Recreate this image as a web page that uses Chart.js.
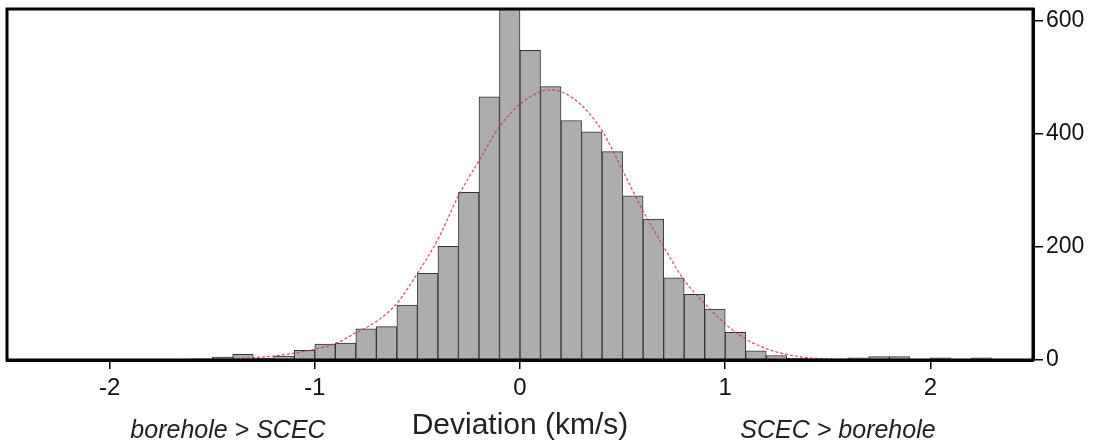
<!DOCTYPE html>
<html>
<head>
<meta charset="utf-8">
<script src="https://cdn.jsdelivr.net/npm/chart.js@4/dist/chart.umd.min.js"></script>
<style>
  html, body { margin: 0; padding: 0; background: #fff; }
  #wrap { width: 1102px; height: 445px; position: relative; }
</style>
</head>
<body>
<div id="wrap"><canvas id="chart"></canvas></div>
<script>
// histogram of velocity deviation, 0.1 km/s bins
const binCenters = [
  -2.45, -2.35, -2.25, -2.15, -2.05, -1.95, -1.85, -1.75, -1.65, -1.55,
  -1.45, -1.35, -1.25, -1.15, -1.05, -0.95, -0.85, -0.75, -0.65, -0.55,
  -0.45, -0.35, -0.25, -0.15, -0.05, 0.05, 0.15, 0.25, 0.35, 0.45,
  0.55, 0.65, 0.75, 0.85, 0.95, 1.05, 1.15, 1.25, 1.35, 1.45,
  1.55, 1.65, 1.75, 1.85, 1.95, 2.05, 2.15, 2.25, 2.35, 2.45
];
const counts = [
  0, 0, 0, 0, 0, 0, 0, 0, 1, 2,
  5, 10, 3, 7, 17, 28, 30, 55, 59, 97,
  153, 201, 296, 465, 680, 547, 483, 423, 403, 368,
  290, 249, 145, 116, 90, 49, 16, 8, 3, 2,
  1, 4, 6, 6, 1, 4, 1, 4, 0, 0
];

// fitted normal curve
const curveX = [-2.5, -2.0, -1.6, -1.4, -1.3, -1.2, -1.1, -1.0, -0.9, -0.8, -0.7, -0.6, -0.5, -0.4, -0.3, -0.2, -0.1, 0.0, 0.1, 0.15, 0.2, 0.3, 0.4, 0.5, 0.6, 0.7, 0.8, 0.9, 1.0, 1.1, 1.2, 1.3, 1.4, 1.5, 1.7, 2.0, 2.5];
const curveY = [0, 0, 1, 2, 4, 7, 12, 19, 29, 48, 68, 100, 153, 213, 290, 352, 412, 452, 474, 477, 474, 450, 405, 335, 263, 200, 141, 100, 64, 37, 20, 10, 4, 2, 1, 0, 0];

const xTicks = [-2, -1, 0, 1, 2];
const yTicks = [0, 200, 400, 600];

const fontFamily = "'Liberation Sans', Arial, Helvetica, sans-serif";

const frameAndNotes = {
  id: "frameAndNotes",
  afterDraw(chart) {
    const { ctx, chartArea: a } = chart;
    ctx.save();
    ctx.strokeStyle = "#000";
    ctx.lineWidth = 3;
    ctx.strokeRect(a.left, a.top, a.right - a.left, a.bottom - a.top);
    ctx.fillStyle = "#222";
    ctx.font = "italic 25px " + fontFamily;
    ctx.textAlign = "center";
    ctx.textBaseline = "alphabetic";
    ctx.fillText("borehole > SCEC", 228, 438);
    ctx.fillText("SCEC > borehole", 838, 438);
    ctx.restore();
  },
};

new Chart(document.getElementById("chart"), {
  type: "bar",
  data: {
    datasets: [
      {
        type: "line",
        data: curveX.map((x, i) => ({ x, y: curveY[i] })),
        borderColor: "rgba(200, 60, 80, 0.85)",
        borderWidth: 1.3,
        borderDash: [3, 2],
        pointRadius: 0,
        cubicInterpolationMode: "monotone",
        fill: false,
        order: 0,
      },
      {
        data: binCenters.map((x, i) => ({ x, y: counts[i] })),
        backgroundColor: "#adadad",
        borderColor: "#333",
        borderWidth: 1,
        barPercentage: 1,
        categoryPercentage: 1,
        order: 1,
      },
    ],
  },
  options: {
    responsive: true,
    maintainAspectRatio: false,
    animation: false,
    layout: { padding: { left: 7, top: 9, right: 0, bottom: 0 } },
    plugins: { legend: { display: false }, tooltip: { enabled: false } },
    scales: {
      x: {
        type: "linear",
        min: -2.5,
        max: 2.5,
        offset: false,
        afterBuildTicks: (s) => { s.ticks = xTicks.map((v) => ({ value: v })); },
        afterFit: (s) => { s.height = 85; s.paddingLeft = 0; s.paddingRight = 0; },
        grid: { display: true, offset: false, drawOnChartArea: false, drawTicks: true, tickLength: 9, color: "#000", lineWidth: 1.5 },
        border: { display: true, color: "#000", width: 3 },
        ticks: { color: "#111", padding: 5, font: { family: fontFamily, size: 24 }, maxRotation: 0 },
        title: {
          display: true,
          text: "Deviation (km/s)",
          color: "#222",
          font: { family: fontFamily, size: 30 },
          padding: { top: 0, bottom: 1 },
        },
      },
      y: {
        position: "right",
        min: 0,
        max: 620,
        afterBuildTicks: (s) => { s.ticks = yTicks.map((v) => ({ value: v })); },
        afterFit: (s) => { s.width = 69; s.paddingTop = 0; s.paddingBottom = 0; },
        grid: { display: true, drawOnChartArea: false, drawTicks: true, tickLength: 10, color: "#000", lineWidth: 1.5 },
        border: { display: true, color: "#000", width: 3 },
        ticks: { color: "#111", padding: 3, font: { family: fontFamily, size: 23 } },
      },
    },
  },
  plugins: [frameAndNotes],
});
</script>
</body>
</html>
